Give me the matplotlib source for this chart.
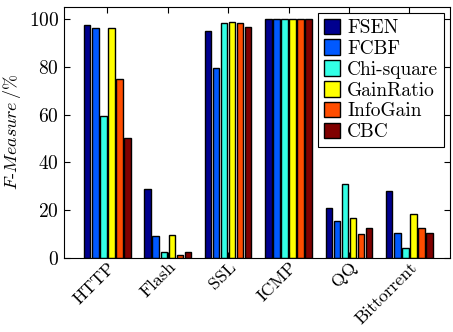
import matplotlib
matplotlib.use('Agg')
import matplotlib.pyplot as plt
import numpy as np

plt.rcParams['font.family'] = 'cmr10'
plt.rcParams['mathtext.fontset'] = 'cm'
plt.rcParams['axes.formatter.use_mathtext'] = True

protocols = ['HTTP', 'Flash', 'SSL', 'ICMP', 'QQ', 'Bittorrent']
methods = ['FSEN', 'FCBF', 'Chi-square', 'GainRatio', 'InfoGain', 'CBC']

fsen = [97.5, 29.0, 95.0, 100.0, 20.8, 28.2]
fcbf = [96.3, 9.3, 79.5, 100.0, 15.5, 10.6]
chi = [59.5, 2.5, 98.3, 100.0, 30.8, 4.2]
gainratio = [96.3, 9.8, 98.7, 100.0, 16.6, 18.3]
infogain = [74.7, 1.2, 98.3, 100.0, 10.0, 12.7]
cbc = [50.0, 2.5, 96.5, 100.0, 12.7, 10.6]

colors = [(0.0, 0.0, 0.56), (0.0, 0.35, 1.0), (0.2, 1.0, 0.9),
          (1.0, 1.0, 0.0), (1.0, 0.3, 0.0), (0.5, 0.0, 0.0)]

fig = plt.figure(figsize=(4.53, 3.32), dpi=100)
ax = fig.add_axes([0.141, 0.223, 0.852, 0.756])

x = np.arange(len(protocols))
w = 0.133
series = [fsen, fcbf, chi, gainratio, infogain, cbc]
for i, (vals, name) in enumerate(zip(series, methods)):
    ax.bar(x + (i - 2.5) * w, vals, w * 0.8, color=colors[i],
           edgecolor='k', linewidth=1.0, label=name)

ax.set_xlim(-0.72, 5.67)
ax.set_ylim(0, 105)
ax.set_yticks([0, 20, 40, 60, 80, 100])
ax.set_xticks(x)
ax.set_xticklabels(protocols, rotation=45, ha='right', rotation_mode='anchor', fontsize=13)
ax.tick_params(axis='y', labelsize=14)
ax.tick_params(direction='in', top=True, right=True, length=4)
ax.tick_params(axis='x', pad=1)
ax.set_ylabel(r'$F$-$Measure\,$' + r'/%', fontsize=13)

leg = ax.legend(loc='upper right', fontsize=14, fancybox=False, edgecolor='k',
                framealpha=1, handlelength=0.85, handleheight=0.85,
                handletextpad=0.35, labelspacing=0.12, borderpad=0.3,
                borderaxespad=0.3)
leg.get_frame().set_linewidth(0.8)

fig.savefig('out.png', dpi=100)
